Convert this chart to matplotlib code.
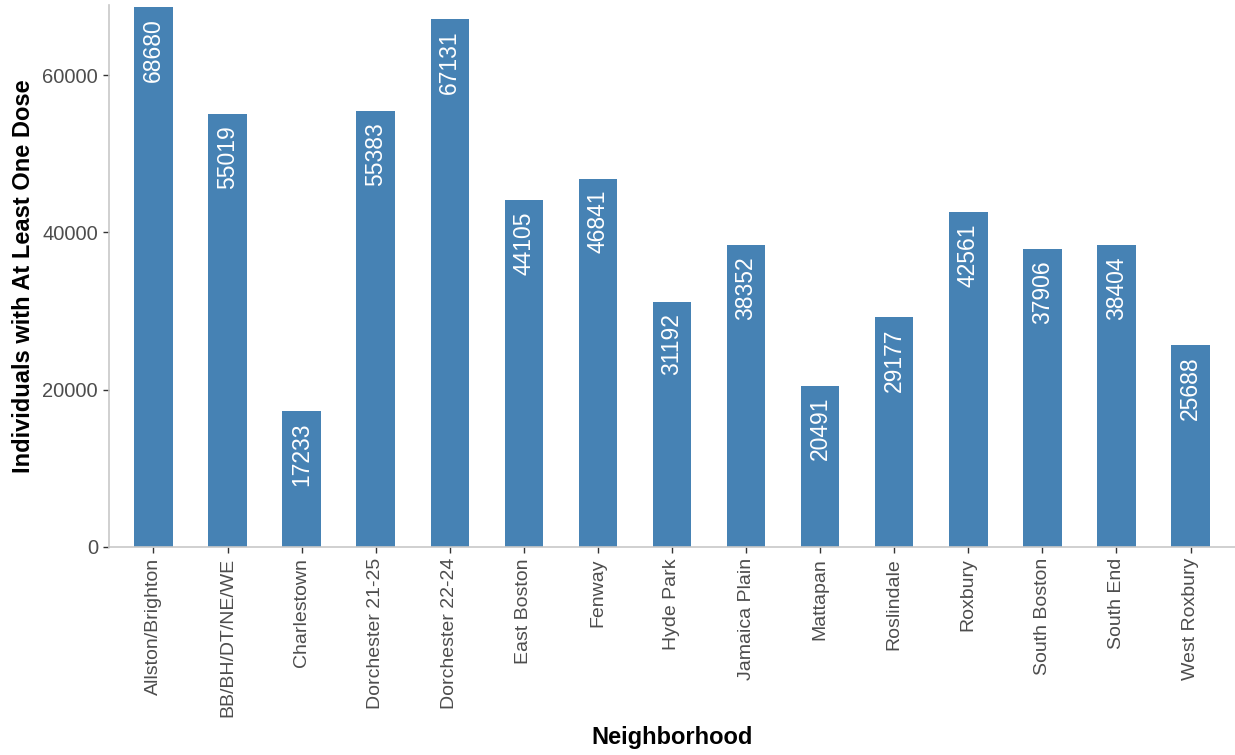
import matplotlib
matplotlib.use('Agg')
import matplotlib.pyplot as plt

plt.rcParams['font.family'] = ['Liberation Sans', 'DejaVu Sans']

neighborhoods = ['Allston/Brighton', 'BB/BH/DT/NE/WE', 'Charlestown', 'Dorchester 21-25',
                 'Dorchester 22-24', 'East Boston', 'Fenway', 'Hyde Park', 'Jamaica Plain',
                 'Mattapan', 'Roslindale', 'Roxbury', 'South Boston', 'South End', 'West Roxbury']
at_least_one_dose = [68680, 55019, 17233, 55383, 67131, 44105, 46841, 31192, 38352,
                     20491, 29177, 42561, 37906, 38404, 25688]
yticks = [0, 20000, 40000, 60000]

fig = plt.figure(figsize=(12.35, 7.55), dpi=100)
ax = fig.add_axes([109/1235, 208/755, (1235-109)/1235, (547-5)/755])

x = list(range(len(neighborhoods)))
ax.bar(x, at_least_one_dose, width=0.52, color='#4682b4')

# value labels inside the bars, just under the top
for xi, v in zip(x, at_least_one_dose):
    ax.annotate(str(v), (xi, v), xytext=(0, -8), textcoords='offset points',
                rotation=90, ha='center', va='top', color='white', fontsize=16.5)

ax.set_xlim(-0.6, len(neighborhoods) - 0.4)
ax.set_ylim(0, 68900)
ax.set_xticks(x)
ax.set_xticklabels(neighborhoods, rotation=90, fontsize=14, color='#4d4d4d')
ax.set_yticks(yticks)
ax.set_yticklabels([str(t) for t in yticks], fontsize=14.5, color='#4d4d4d')

for s in ['top', 'right']:
    ax.spines[s].set_visible(False)
for s in ['left', 'bottom']:
    ax.spines[s].set_color('#c8c8c8')
    ax.spines[s].set_linewidth(1.2)
ax.tick_params(axis='both', length=4, width=1, color='#333333', pad=4)

ax.set_xlabel('Neighborhood', fontsize=17, fontweight='bold', labelpad=6)
ax.set_ylabel('Individuals with At Least One Dose', fontsize=17, fontweight='bold', labelpad=5)

fig.savefig('out.png', dpi=100)
